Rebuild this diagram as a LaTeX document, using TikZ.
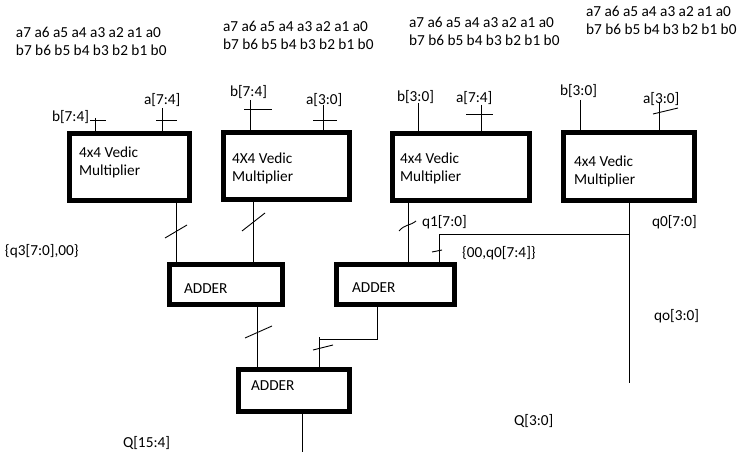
\documentclass[tikz,border=0pt]{standalone}
\usepackage{fontspec}
\setmainfont{Carlito}
\begin{document}
\begin{tikzpicture}[x=1pt,y=-1pt,
  every node/.style={inner sep=0pt,outer sep=0pt},
  txt/.style={anchor=west,font=\fontsize{15.3}{18}\selectfont,align=left},
  blk/.style={draw,line width=5pt,minimum width=#1,anchor=center},
  wire/.style={line width=1pt},
  tick/.style={line width=0.9pt}]
\useasboundingbox[fill=white] (0,0) rectangle (749,462);

% header texts
\node[txt] (h1) at (16,41) {a7 a6 a5 a4 a3 a2 a1 a0\\b7 b6 b5 b4 b3 b2 b1 b0};
\node[txt] (h2) at (223,35.5) {a7 a6 a5 a4 a3 a2 a1 a0\\b7 b6 b5 b4 b3 b2 b1 b0};
\node[txt] (h3) at (409,31) {a7 a6 a5 a4 a3 a2 a1 a0\\b7 b6 b5 b4 b3 b2 b1 b0};
\node[txt] (h4) at (586,20) {a7 a6 a5 a4 a3 a2 a1 a0\\b7 b6 b5 b4 b3 b2 b1 b0};

% multiplier blocks
\node[blk=120pt,minimum height=67pt] (m1) at (129.5,167) {};
\node[blk=126pt,minimum height=67pt] (m2) at (286.5,166) {};
\node[blk=137pt,minimum height=67pt] (m3) at (461,167) {};
\node[blk=131pt,minimum height=68pt] (m4) at (629,166.5) {};
\node[txt] (m1t) at (79,162.5) {4x4 Vedic\\Multiplier};
\node[txt] (m2t) at (232,168) {4X4 Vedic\\Multiplier};
\node[txt] (m3t) at (400,168.5) {4x4 Vedic\\Multiplier};
\node[txt] (m4t) at (574,171) {4x4 Vedic\\Multiplier};

% adders
\node[blk=113pt,minimum height=40pt] (a1) at (226,284.5) {};
\node[blk=118pt,minimum height=40pt] (a2) at (395.5,284.5) {};
\node[blk=111pt,minimum height=42pt] (a3) at (294,390.5) {};
\node[txt] (a1t) at (184,289) {ADDER};
\node[txt] (a2t) at (352,288) {ADDER};
\node[txt] (a3t) at (251,386) {ADDER};

% input labels
\node[txt] (l1b) at (52,117) {b[7:4]};
\node[txt] (l1a) at (144,100) {a[7:4]};
\node[txt] (l2b) at (230,92) {b[7:4]};
\node[txt] (l2a) at (306,100) {a[3:0]};
\node[txt] (l3b) at (397,97) {b[3:0]};
\node[txt] (l3a) at (456,98) {a[7:4]};
\node[txt] (l4b) at (560,91) {b[3:0]};
\node[txt] (l4a) at (643,99) {a[3:0]};

% other labels
\node[txt] (lq3) at (5,251) {\{q3[7:0],00\}};
\node[txt] (lq1) at (422,222) {q1[7:0]};
\node[txt] (lq0) at (652,222) {q0[7:0]};
\node[txt] (lq0b) at (462,253) {\{00,q0[7:4]\}};
\node[txt] (lqo) at (654,316) {qo[3:0]};
\node[txt] (lQl) at (514,421) {Q[3:0]};
\node[txt] (lQh) at (123,443) {Q[15:4]};

% input wire ends
\coordinate (i1b) at (95,118);
\coordinate (i1a) at (162,108);
\coordinate (i2b) at (250,100);
\coordinate (i2a) at (323,105);
\coordinate (i3b) at (418,103);
\coordinate (i3a) at (481,105);
\coordinate (i4b) at (580,100);
\coordinate (i4a) at (659,103);
\foreach \c/\m in {i1b/m1,i1a/m1,i2b/m2,i2a/m2,i3b/m3,i3a/m3,i4b/m4,i4a/m4}
  \draw[wire] (\c) -- (\c |- \m.north);

% input ticks
\draw[tick] (90,120) -- (106,120);
\draw[tick] (156,120) -- (177,120);
\draw[tick] (244,109) -- (272,109);
\draw[tick] (313,120) -- (337,120);
\draw[tick] (466,114) -- (493,114);
\draw[tick] (653,114) -- (678,108);

% outputs of multipliers
\coordinate (o1) at (176,0);
\coordinate (o2) at (253,0);
\coordinate (o3) at (408,0);
\draw[wire] (o1 |- m1.south) -- (o1 |- a1.north);
\draw[wire] (o2 |- m2.south) -- (o2 |- a1.north);
\draw[wire] (o3 |- m3.south) -- (o3 |- a2.north);
\coordinate (q0end) at (629,383);
\coordinate (q0br) at (629,235);
\coordinate (q0in) at (439,235);
\draw[wire] (q0end |- m4.south) -- (q0end);
\draw[wire] (q0br) -- (q0in) -- (q0in |- a2.north);

\draw[tick] (165,238) -- (187,225);
\draw[tick] (242,231) -- (265,213);
\draw[tick] (399,231) .. controls (405,224) and (410,226) .. (416,221);
\draw[tick] (432,252) -- (442,250);

% adder outputs
\coordinate (s1) at (257,0);
\draw[wire] (s1 |- a1.south) -- (s1 |- a3.north);
\coordinate (s2) at (377,339);
\coordinate (s2b) at (319,339);
\coordinate (s2t) at (319,337);
\draw[wire] (s2 |- a2.south) -- (s2) -- (s2b);
\draw[wire] (s2t) -- (s2t |- a3.north);
\coordinate (qout) at (302,452);
\draw[wire] (qout |- a3.south) -- (qout);

\draw[tick] (245,338) -- (272,326);
\draw[tick] (313,350) -- (333,345);
\end{tikzpicture}
\end{document}
